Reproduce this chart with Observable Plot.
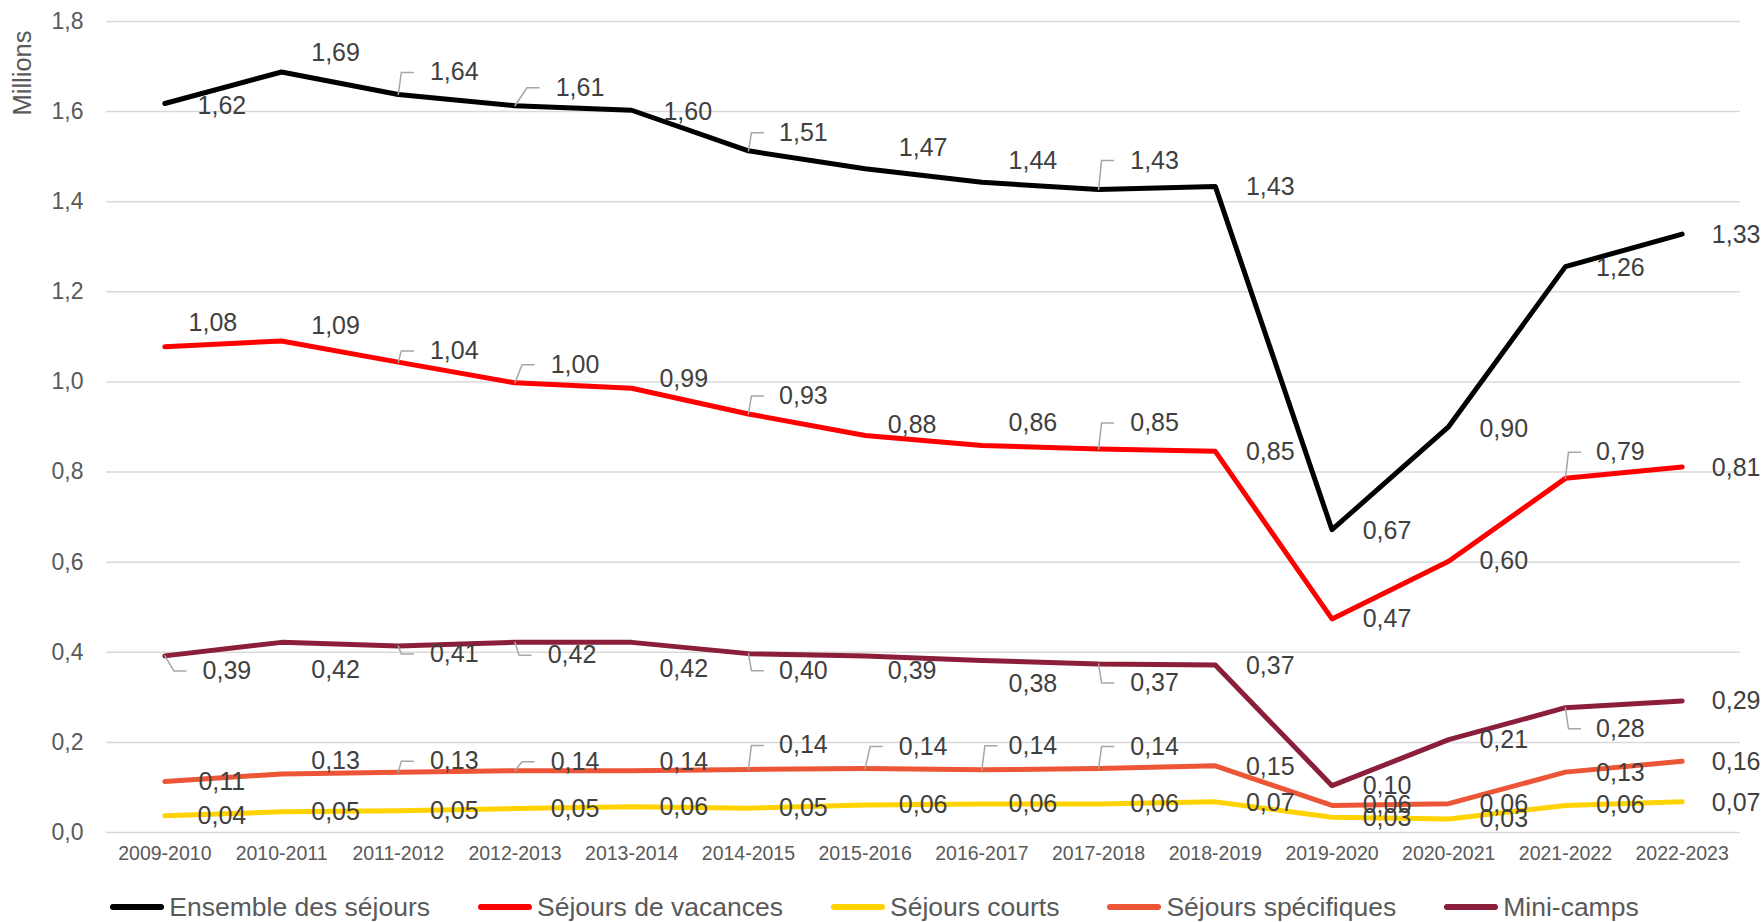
<!DOCTYPE html>
<html>
<head>
<meta charset="utf-8">
<script src="https://cdn.jsdelivr.net/npm/d3@7"></script>
<script src="https://cdn.jsdelivr.net/npm/@observablehq/plot@0.6"></script>
<style>
  html, body { margin: 0; padding: 0; background: #fff; }
  body { width: 1763px; height: 922px; overflow: hidden; position: relative; font-family: "Liberation Sans", Arial, sans-serif; }
  #legend { display: flex; justify-content: center; align-items: center; gap: 48px; margin-top: 17px; height: 30px; font-size: 26.5px; color: #595959; padding-right: 14px; }
  .item { display: flex; align-items: center; }
  .sw { width: 54px; height: 6px; border-radius: 3px; margin-right: 5px; }
  #ylabel { position: absolute; left: 22px; top: 73px; transform: translate(-50%, -50%) rotate(-90deg); font-size: 25.5px; color: #595959; white-space: nowrap; }
</style>
</head>
<body>
<div id="chart"></div>
<div id="legend"></div>
<div id="ylabel">Millions</div>
<script>
// ---- data ----
const seasons = ["2009-2010","2010-2011","2011-2012","2012-2013","2013-2014","2014-2015","2015-2016","2016-2017","2017-2018","2018-2019","2019-2020","2020-2021","2021-2022","2022-2023"];
const ensemble   = [1.618,1.688,1.638,1.613,1.603,1.513,1.473,1.443,1.427,1.434,0.672,0.901,1.256,1.328];
const vacances   = [1.078,1.091,1.044,0.998,0.986,0.929,0.881,0.859,0.851,0.846,0.474,0.602,0.786,0.811];
const courts     = [0.037,0.046,0.048,0.053,0.057,0.054,0.061,0.063,0.063,0.068,0.034,0.030,0.060,0.068];
const specifiques= [0.113,0.130,0.134,0.137,0.137,0.140,0.142,0.139,0.142,0.148,0.060,0.064,0.134,0.158];
const minicamps  = [0.392,0.422,0.414,0.422,0.422,0.397,0.392,0.382,0.374,0.372,0.104,0.206,0.277,0.292];
const seriesNames = ["Ensemble des séjours","Séjours de vacances","Séjours courts","Séjours spécifiques","Mini-camps"];
const yTicks = [0,0.2,0.4,0.6,0.8,1.0,1.2,1.4,1.6,1.8];

// ---- styling / layout ----
const seriesColors = ["#000000","#ff0000","#ffd200","#ec5535","#8b1e3a"];
// label nudges in pixels: [dx, dy, leader]
const nudgeEnsemble = [[57,2,0],[54,-19,0],[56,-22,1],[65,-18,1],[56,2,0],[55,-18,1],[58,-21,0],[51,-21,0],[56,-29,1],[55,1,0],[55,1,0],[55,2,0],[55,1,0],[54,1,0]];
const nudgeVacances = [[48,-24,0],[54,-15,0],[56,-11,1],[60,-18,1],[52,-9,0],[55,-18,1],[47,-11,0],[51,-22,0],[56,-26,1],[55,1,0],[55,0,0],[55,0,0],[55,-26,1],[54,1,0]];
const nudgeCourts   = [[57,0,0],[54,0,0],[56,0,0],[60,0,0],[52,0,0],[55,0,0],[58,0,0],[51,0,0],[56,0,0],[55,1,0],[55,1,0],[55,0,0],[55,0,0],[54,1,0]];
const nudgeSpec     = [[57,0,0],[54,-13,0],[56,-11,1],[60,-9,1],[52,-9,0],[55,-24,1],[58,-22,1],[51,-24,1],[56,-22,1],[55,1,0],[55,0,0],[55,0,0],[55,1,0],[54,1,0]];
const nudgeMini     = [[62,15,1],[54,28,0],[56,8,1],[57,13,1],[52,27,0],[55,17,1],[47,15,0],[51,24,0],[56,19,1],[55,1,0],[55,0,0],[55,0,0],[55,21,1],[54,0,0]];

const W = 1763, H = 875, ML = 106, MR = 23, MT = 21, MB = 43;
const kx = (W - ML - MR) / seasons.length;   // px per x unit
const ky = (H - MT - MB) / 1.8;              // px per y unit

const allSeries = [ensemble, vacances, courts, specifiques, minicamps];
const allNudges = [nudgeEnsemble, nudgeVacances, nudgeCourts, nudgeSpec, nudgeMini];
const fmt = v => d3.format(".2f")(v).replace(".", ",");

const points = [], labels = [], leaders = [];
allSeries.forEach((vals, s) => {
  vals.forEach((v, i) => {
    points.push({s, name: seriesNames[s], i, v});
    const [dx, dy, lead] = allNudges[s][i];
    labels.push({i: i + dx / kx, v: v - dy / ky, text: fmt(v)});
    if (lead) {
      const id = s + "-" + i;
      const corner = Math.max(3, dx - 53);
      leaders.push({id, i, v});
      leaders.push({id, i: i + corner / kx, v: v - dy / ky});
      leaders.push({id, i: i + (corner + 12) / kx, v: v - dy / ky});
    }
  });
});

const chart = Plot.plot({
  width: W, height: H,
  marginLeft: ML, marginRight: MR, marginTop: MT, marginBottom: MB,
  style: {fontFamily: "'Liberation Sans', Arial, sans-serif", background: "#fff"},
  x: {type: "linear", domain: [-0.5, seasons.length - 0.5]},
  y: {domain: [0, 1.8]},
  color: {domain: seriesNames, range: seriesColors},
  marks: [
    Plot.gridY(yTicks, {stroke: "#d9d9d9", strokeOpacity: 1, strokeWidth: 1.5}),
    Plot.axisY(yTicks, {tickSize: 0, tickPadding: 23, fontSize: 23, fill: "#595959",
      tickFormat: d => d.toFixed(1).replace(".", ","), label: null}),
    Plot.axisX(d3.range(seasons.length), {tickSize: 0, tickPadding: 14, fontSize: 19.5, fill: "#595959",
      tickFormat: i => seasons[i], label: null}),
    Plot.line(points, {x: "i", y: "v", z: "name", stroke: "name", strokeWidth: 5, strokeLinejoin: "round", strokeLinecap: "round"}),
    Plot.line(leaders, {x: "i", y: "v", z: "id", stroke: "#a6a6a6", strokeWidth: 1.5}),
    Plot.text(labels, {x: "i", y: "v", text: "text", fontSize: 25, fill: "#404040", textAnchor: "middle", lineAnchor: "middle"})
  ]
});
document.getElementById("chart").appendChild(chart);

const legend = document.getElementById("legend");
seriesNames.forEach((n, k) => {
  const it = document.createElement("div");
  it.className = "item";
  const sw = document.createElement("div");
  sw.className = "sw";
  sw.style.background = seriesColors[k];
  const tx = document.createElement("span");
  tx.textContent = n;
  it.appendChild(sw); it.appendChild(tx);
  legend.appendChild(it);
});
</script>
</body>
</html>
